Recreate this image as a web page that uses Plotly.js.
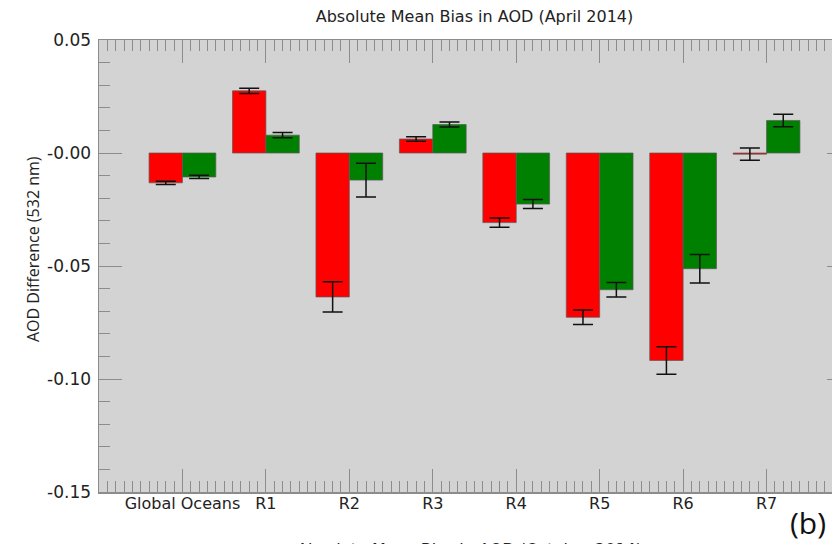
<!DOCTYPE html>
<html>
<head>
<meta charset="utf-8">
<script src="https://cdn.plot.ly/plotly-3.0.1.min.js"></script>
<style>
html,body{margin:0;padding:0;overflow:hidden;background:#fff;width:832px;height:544px;}
#chart{width:900px;height:560px;}
</style>
</head>
<body>
<div id="chart"></div>
<script>
const categories = ["Global Oceans","R1","R2","R3","R4","R5","R6","R7"];
const redValues   = [-0.0132, 0.0275, -0.0637, 0.0062, -0.0308, -0.0727, -0.0918, -0.0005];
const redErrors   = [0.0007, 0.0012, 0.0067, 0.0010, 0.0020, 0.0032, 0.0061, 0.0027];
const greenValues = [-0.0106, 0.0079, -0.0120, 0.0126, -0.0226, -0.0605, -0.0512, 0.0144];
const greenErrors = [0.0007, 0.0012, 0.0075, 0.0011, 0.0020, 0.0032, 0.0063, 0.0028];
const yTickVals   = [-0.15, -0.10, -0.05, 0, 0.05];
const yTickText   = ["-0.15", "-0.10", "-0.05", "-0.00", "0.05"];

const xPos = categories.map((c, i) => i);

const errStyle = {type: 'data', visible: true, color: '#111', thickness: 1.5, width: 10};

const traces = [
  {
    type: 'bar', x: xPos, y: redValues, name: 'red',
    marker: {color: '#ff0000', line: {color: 'rgba(90,90,90,0.7)', width: 1}},
    error_y: Object.assign({array: redErrors}, errStyle)
  },
  {
    type: 'bar', x: xPos, y: greenValues, name: 'green',
    marker: {color: '#008000', line: {color: 'rgba(90,90,90,0.7)', width: 1}},
    error_y: Object.assign({array: greenErrors}, errStyle)
  }
];

const axisCommon = {
  showline: true, linecolor: '#8c8c8c', linewidth: 1.5,
  mirror: 'allticks', ticks: 'inside', ticklen: 23, tickwidth: 1, tickcolor: '#8c8c8c',
  showgrid: false, zeroline: false
};

const W = 751, H = 452, L = 99, T = 40;
const px = v => (v - L) / W;
const py = v => (T + H - v) / H;

const layout = {
  width: 900, height: 560,
  margin: {l: L, r: 900 - L - W, t: T, b: 560 - T - H},
  paper_bgcolor: '#ffffff',
  plot_bgcolor: '#d3d3d3',
  showlegend: false,
  barmode: 'group', bargap: 0.2, bargroupgap: 0,
  font: {family: 'DejaVu Sans', color: '#222', size: 14},
  title: {
    text: 'Absolute Mean Bias in AOD (April 2014)',
    font: {family: 'DejaVu Sans', size: 16, color: '#222'},
    xref: 'paper', x: 0.5, xanchor: 'center',
    yref: 'container', y: 1 - 16/560, yanchor: 'middle'
  },
  xaxis: Object.assign({}, axisCommon, {
    type: 'linear', range: [-1, 8],
    tickmode: 'array', tickvals: xPos, ticktext: categories,
    tickfont: {family: 'DejaVu Sans', size: 16, color: '#222'},
    minor: {dtick: 0.1, tick0: 0, ticks: 'inside', ticklen: 11, tickcolor: '#8c8c8c', tickwidth: 1, showgrid: false},
    ticklabelstandoff: -4
  }),
  yaxis: Object.assign({}, axisCommon, {
    range: [-0.15, 0.05],
    tickmode: 'array', tickvals: yTickVals, ticktext: yTickText,
    tickfont: {family: 'DejaVu Sans', size: 17, color: '#222'},
    minor: {dtick: 0.01, tick0: 0, ticks: 'inside', ticklen: 11, tickcolor: '#8c8c8c', tickwidth: 1, showgrid: false},
    ticklabelstandoff: 3
  }),
  annotations: [
    {text: 'AOD Difference (532 nm)', xref: 'paper', yref: 'paper', x: px(33), y: py(249),
     xanchor: 'center', yanchor: 'middle', textangle: -90, showarrow: false,
     font: {family: 'Open Sans', size: 16, color: '#222'}},
    {text: '(b)', xref: 'paper', yref: 'paper', x: px(808), y: py(522),
     xanchor: 'center', yanchor: 'middle', showarrow: false,
     font: {family: 'Open Sans', size: 30, color: '#111'}},
    {text: 'Absolute Mean Bias in AOD (October 2014)', xref: 'paper', yref: 'paper', x: px(469), y: py(549),
     xanchor: 'center', yanchor: 'middle', showarrow: false,
     font: {family: 'DejaVu Sans', size: 16, color: '#222'}}
  ]
};

Plotly.newPlot('chart', traces, layout, {displayModeBar: false, staticPlot: true});
</script>
</body>
</html>
